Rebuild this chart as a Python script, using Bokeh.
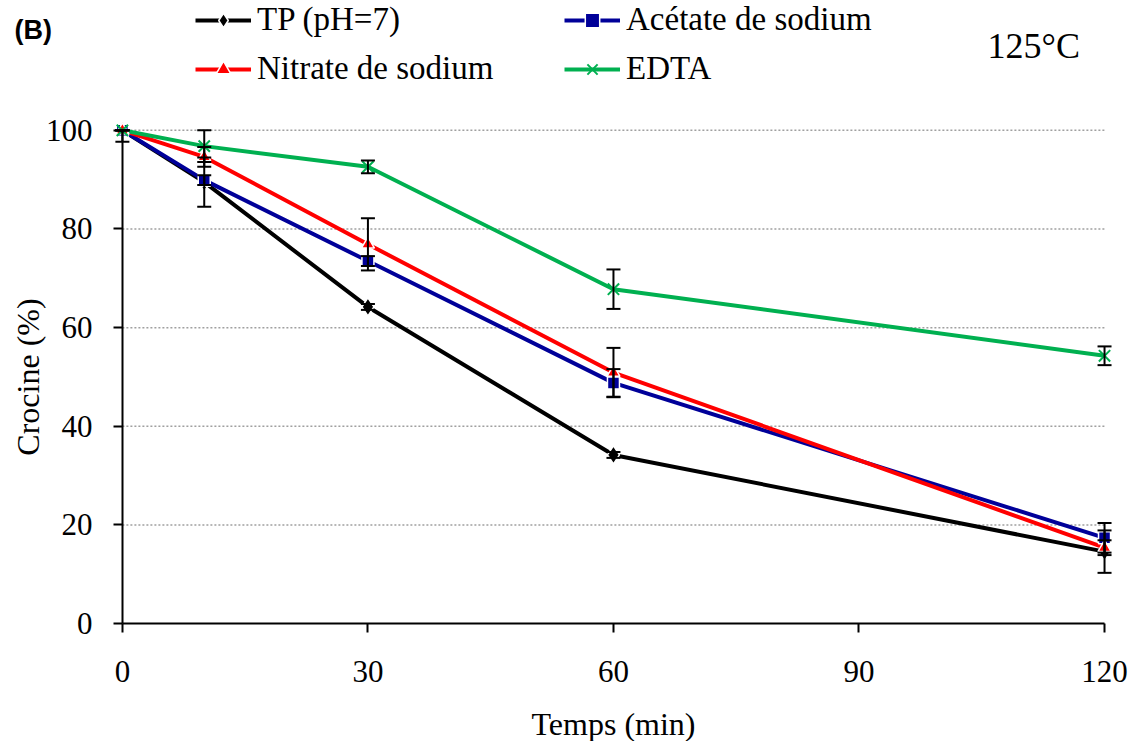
from bokeh.plotting import figure
from bokeh.models import (ColumnDataSource, Whisker, TeeHead, Legend, LegendItem,
                          Label, FixedTicker, Range1d, LinearAxis)
from bokeh.embed import file_html
from bokeh.resources import INLINE

# ---- data ----
time_min = [0, 10, 30, 60, 120]
tp = [100, 89.5, 64.2, 34.2, 14.6]
tp_err_minus = [2.3, 5.0, 0.6, 0.6, 4.3]
tp_err_plus = [0.0, 5.0, 0.6, 0.6, 4.3]
acetate = [100, 89.9, 73.5, 48.8, 17.4]
acetate_err = [0.0, 1.0, 1.0, 2.8, 3.0]
nitrate = [100, 94.6, 76.9, 50.9, 15.4]
nitrate_err = [0.0, 2.0, 5.3, 5.0, 1.5]
edta = [100, 96.8, 92.6, 67.8, 54.3]
edta_err = [0.0, 3.2, 1.3, 4.0, 1.9]

series_names = ["TP (pH=7)", "Acétate de sodium", "Nitrate de sodium", "EDTA"]
x_ticks = [0, 30, 60, 90, 120]
y_ticks = [0, 20, 40, 60, 80, 100]

SERIF = "'Liberation Serif', 'Times New Roman', Tinos, serif"
W, H = 1136, 741

# frame covers the whole canvas; axes are placed at data 0 with fixed_location
p = figure(width=W, height=H, output_backend="svg", toolbar_location=None,
           x_range=Range1d(-14.893, 123.906), y_range=Range1d(-23.887, 126.316),
           x_axis_location=None, y_axis_location=None,
           min_border_left=0, min_border_right=0, min_border_top=0,
           min_border_bottom=0)
p.outline_line_color = None
p.background_fill_color = "white"
p.border_fill_color = "white"
p.xgrid.visible = False
p.ygrid.visible = False

xaxis = LinearAxis(fixed_location=0, bounds=(x_ticks[0], x_ticks[-1]),
                   ticker=FixedTicker(ticks=x_ticks), axis_label="Temps (min)")
yaxis = LinearAxis(fixed_location=0, bounds=(y_ticks[0], y_ticks[-1]),
                   ticker=FixedTicker(ticks=y_ticks), axis_label="Crocine (%)")
for ax in (xaxis, yaxis):
    ax.axis_line_color = "black"
    ax.axis_line_width = 2
    ax.major_tick_line_color = "black"
    ax.major_tick_line_width = 2
    ax.major_tick_out = 9
    ax.major_tick_in = 0
    ax.minor_tick_line_color = None
    ax.major_label_text_font = SERIF
    ax.major_label_text_font_size = "31px"
    ax.major_label_text_color = "black"
    ax.axis_label_text_font = SERIF
    ax.axis_label_text_font_size = "32px"
    ax.axis_label_text_font_style = "normal"
    ax.axis_label_text_color = "black"
xaxis.major_label_standoff = 28
xaxis.axis_label_standoff = 21
yaxis.major_label_standoff = 21
yaxis.axis_label_standoff = -3
p.add_layout(xaxis, "below")
p.add_layout(yaxis, "left")

# dotted horizontal gridlines between x = 0 and x = 120
grid_y = y_ticks[1:]
p.segment(x0=[x_ticks[0]] * len(grid_y), x1=[x_ticks[-1]] * len(grid_y),
          y0=grid_y, y1=grid_y, line_color="#A0A0A0", line_dash="2 2",
          line_width=1.5)

colors = ["#000000", "#000099", "#FF0000", "#00B050"]
values = [tp, acetate, nitrate, edta]
errs_minus = [tp_err_minus, acetate_err, nitrate_err, edta_err]
errs_plus = [tp_err_plus, acetate_err, nitrate_err, edta_err]
markers = ["diamond", "square", "triangle", "x"]
msizes = [18, 12, 13, 16]

line_rs = []
for vals, col in zip(values, colors):
    line_rs.append(p.line(time_min, vals, line_color=col, line_width=4))

for vals, em, ep in zip(values, errs_minus, errs_plus):
    src = ColumnDataSource(dict(x=time_min,
                                lo=[v - e for v, e in zip(vals, em)],
                                up=[v + e for v, e in zip(vals, ep)]))
    w = Whisker(source=src, base="x", lower="lo", upper="up", dimension="height",
                line_color="black", line_width=2, level="glyph",
                upper_head=TeeHead(size=14, line_color="black", line_width=2),
                lower_head=TeeHead(size=14, line_color="black", line_width=2))
    p.add_layout(w)

scat_rs = []
for vals, col, mk, ms in zip(values, colors, markers, msizes):
    if mk == "x":
        r = p.scatter(time_min, vals, marker=mk, size=ms, line_color=col, line_width=2)
    else:
        r = p.scatter(time_min, vals, marker=mk, size=ms, fill_color=col,
                      line_color="white", line_width=1.5)
    scat_rs.append(r)

def make_legend(idx, vx):
    items = [LegendItem(label=series_names[i], renderers=[line_rs[i], scat_rs[i]])
             for i in idx]
    return Legend(items=items, location=(vx, H - 87), orientation="vertical",
                  label_text_font=SERIF, label_text_font_size="33px",
                  label_text_color="black", glyph_width=56, glyph_height=36,
                  label_height=36, label_standoff=6, spacing=12, padding=0,
                  margin=0, background_fill_alpha=0, border_line_alpha=0)

p.add_layout(make_legend([0, 2], 195))
p.add_layout(make_legend([1, 3], 564))

p.add_layout(Label(x=14, y=H - 14, x_units="screen", y_units="screen", text="(B)",
                   text_font="Liberation Sans", text_font_style="bold",
                   text_font_size="27px", text_baseline="top", text_align="left",
                   text_color="black"))
p.add_layout(Label(x=987, y=H - 45, x_units="screen", y_units="screen", text="125°C",
                   text_font=SERIF, text_font_size="36px",
                   text_baseline="middle", text_align="left",
                   text_color="black"))

open("out.html", "w").write(file_html(p, INLINE))
